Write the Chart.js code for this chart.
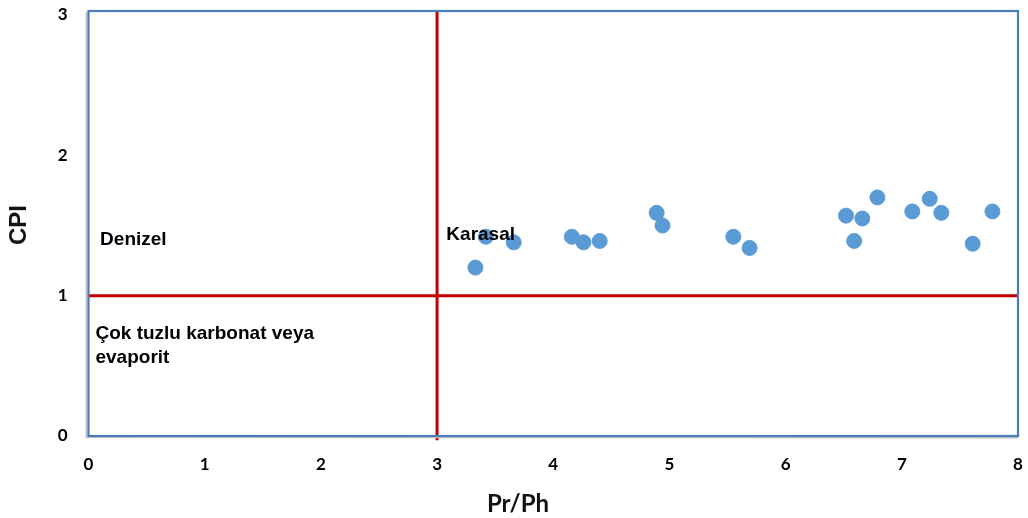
<!DOCTYPE html>
<html>
<head>
<meta charset="utf-8">
<script src="https://cdn.jsdelivr.net/npm/chart.js@4/dist/chart.umd.min.js"></script>
<style>
  html, body { margin: 0; padding: 0; background: #fff; }
  #wrap { width: 1028px; height: 518px; }
</style>
</head>
<body>
<div id="wrap"><canvas id="c" width="1028" height="518"></canvas></div>
<script>
// Pristane/phytane ratio vs carbon preference index of the samples
const prPh = [3.33, 3.42, 3.66, 4.16, 4.26, 4.40, 4.89, 4.94, 5.55, 5.69,
              6.52, 6.59, 6.66, 6.79, 7.09, 7.24, 7.34, 7.61, 7.78];
const cpi  = [1.20, 1.42, 1.38, 1.42, 1.38, 1.39, 1.59, 1.50, 1.42, 1.34,
              1.57, 1.39, 1.55, 1.70, 1.60, 1.69, 1.59, 1.37, 1.60];

// Boundaries between depositional environments
const prPhLimit = 3;
const cpiLimit = 1;

const xTicks = [0, 1, 2, 3, 4, 5, 6, 7, 8];
const yTicks = [0, 1, 2, 3];

const xTitle = 'Pr/Ph';
const yTitle = 'CPI';

// Environment labels: text lines placed at data coordinates
const zoneLabels = [
  { lines: ['Denizel'], x: 0.10, y: 1.36 },
  { lines: ['Karasal'], x: 3.08, y: 1.40 },
  { lines: ['Çok tuzlu karbonat veya', 'evaporit'], x: 0.06, y: 0.69 }
];

const points = prPh.map((v, i) => ({ x: v, y: cpi[i] }));

const frameAndText = {
  id: 'frameAndText',
  afterDatasetsDraw(chart) {
    const { ctx, chartArea: a, scales } = chart;
    const top = a.top - 4;
    ctx.save();
    // soft shadow on the left of the plot frame
    ctx.strokeStyle = '#c4c4c4';
    ctx.lineWidth = 2;
    ctx.beginPath();
    ctx.moveTo(a.left - 2, top + 1);
    ctx.lineTo(a.left - 2, a.bottom + 1);
    ctx.lineTo(a.right, a.bottom + 1.5);
    ctx.stroke();
    // plot frame
    ctx.strokeStyle = '#4a7ebb';
    ctx.lineWidth = 2.2;
    ctx.strokeRect(a.left, top, a.right - a.left, a.bottom - top);

    // zone labels
    ctx.fillStyle = '#000';
    ctx.font = 'bold 19px "Liberation Sans", Arial, sans-serif';
    ctx.textAlign = 'left';
    ctx.textBaseline = 'alphabetic';
    zoneLabels.forEach(l => {
      const px = scales.x.getPixelForValue(l.x);
      const py = scales.y.getPixelForValue(l.y);
      l.lines.forEach((t, i) => ctx.fillText(t, px, py + i * 24));
    });

    // axis titles
    ctx.font = 'bold 24px Lato, "Liberation Sans", sans-serif';
    ctx.textAlign = 'center';
    ctx.fillStyle = '#111';
    ctx.fillText(xTitle, 518, 512);
    ctx.translate(19, 225);
    ctx.rotate(-Math.PI / 2);
    ctx.font = 'bold 24px "Liberation Sans", Arial, sans-serif';
    ctx.textBaseline = 'middle';
    ctx.fillText(yTitle, 0, 0);
    ctx.restore();
  }
};

new Chart(document.getElementById('c'), {
  type: 'scatter',
  data: {
    datasets: [
      {
        label: 'Örnekler',
        data: points,
        backgroundColor: '#5b9bd5',
        borderColor: '#5b9bd5',
        pointRadius: 7.5,
        pointHoverRadius: 7.5,
        order: 0
      },
      {
        type: 'line',
        label: 'CPI sınırı',
        data: [{ x: 0, y: cpiLimit }, { x: 8, y: cpiLimit }],
        borderColor: '#c00000',
        borderWidth: 3,
        pointRadius: 0,
        order: 1
      },
      {
        type: 'line',
        label: 'Pr/Ph sınırı',
        data: [{ x: prPhLimit, y: -0.03 }, { x: prPhLimit, y: 3.03 }],
        borderColor: '#c00000',
        borderWidth: 3,
        pointRadius: 0,
        clip: false,
        order: 1
      }
    ]
  },
  options: {
    responsive: false,
    animation: false,
    events: [],
    layout: { padding: { top: 15, right: 10, left: 0, bottom: 0 } },
    plugins: { legend: { display: false }, tooltip: { enabled: false } },
    scales: {
      x: {
        type: 'linear',
        min: 0, max: 8,
        afterBuildTicks: s => { s.ticks = xTicks.map(v => ({ value: v })); },
        afterFit: s => { s.height = 82; s.paddingLeft = 0; s.paddingRight = 0; },
        grid: { display: false, drawTicks: false },
        border: { display: false },
        ticks: {
          padding: 18,
          color: '#000',
          font: { family: 'Lato, "Liberation Sans", sans-serif', size: 17, weight: 'bold' }
        }
      },
      y: {
        type: 'linear',
        min: 0, max: 3,
        afterBuildTicks: s => { s.ticks = yTicks.map(v => ({ value: v })); },
        afterFit: s => { s.width = 88.5; s.paddingTop = 0; s.paddingBottom = 0; },
        grid: { display: false, drawTicks: false },
        border: { display: false },
        ticks: {
          padding: 21,
          color: '#000',
          font: { family: 'Lato, "Liberation Sans", sans-serif', size: 17, weight: 'bold' }
        }
      }
    }
  },
  plugins: [frameAndText]
});
</script>
</body>
</html>
